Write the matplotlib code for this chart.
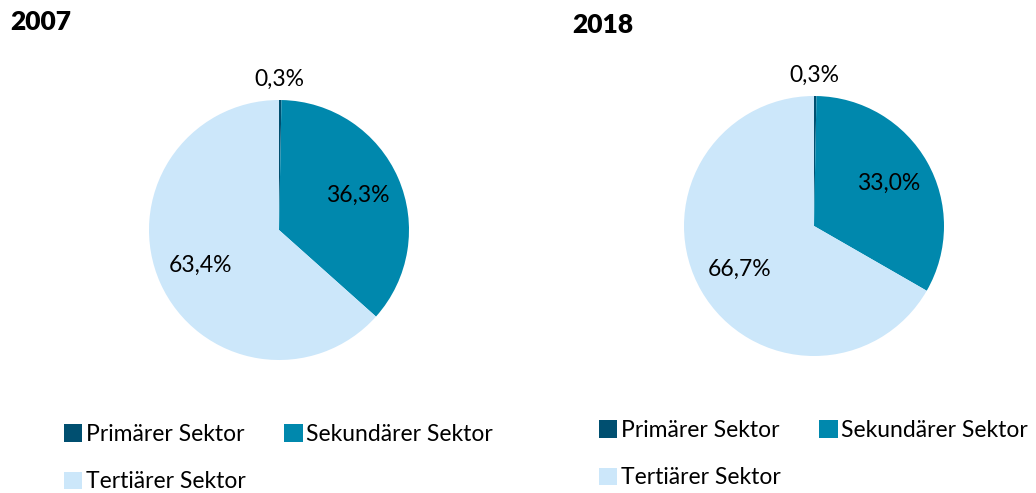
import matplotlib
matplotlib.use("Agg")
import matplotlib.pyplot as plt

sektoren = ["Primärer Sektor", "Sekundärer Sektor", "Tertiärer Sektor"]
farben = ["#004f70", "#0088ad", "#cce7fa"]
jahre = ["2007", "2018"]
anteile_2007 = [0.3, 36.3, 63.4]
anteile_2018 = [0.3, 33.0, 66.7]

plt.rcParams['font.family'] = ['Lato', 'DejaVu Sans']

W, H = 1036, 493
fig = plt.figure(figsize=(W / 100, H / 100), dpi=100)

# pie centers (px) and radius, title and legend positions
panels = [
    (jahre[0], anteile_2007, (279, 230), (10, 22), (64, 424)),
    (jahre[1], anteile_2018, (814, 226), (572, 25), (599, 420)),
]
R = 130

for jahr, werte, (cx, cy), (tx, ty), (lx, ly) in panels:
    ax = fig.add_axes([(cx - R) / W, (H - cy - R) / H, 2 * R / W, 2 * R / H])
    labels = [f"{v:.1f}%".replace(".", ",") for v in werte]
    wedges, texts = ax.pie(werte, colors=farben, startangle=90, counterclock=False,
                           labels=labels, labeldistance=0.66,
                           textprops=dict(fontsize=16.5, color="black", ha="center", va="center"),
                           wedgeprops=dict(linewidth=0))
    # small primary share: label above the pie
    texts[0].set_position((0, 1.16))
    ax.set_xlim(-1, 1)
    ax.set_ylim(-1, 1)
    fig.text(tx / W, 1 - ty / H, jahr, fontsize=19, fontweight="heavy", va="center", ha="left")
    # column-first fill: order so that row 1 = primary, secondary
    order = [0, 2, 1]
    fig.legend([wedges[i] for i in order], [sektoren[i] for i in order],
               loc="upper left", bbox_to_anchor=(lx / W, 1 - ly / H),
               ncol=2, frameon=False, fontsize=16.5, handlelength=0.8, handleheight=0.8,
               handletextpad=0.15, columnspacing=1.7, labelspacing=1.15, borderpad=0,
               borderaxespad=0)

fig.savefig("out.png", dpi=100)
